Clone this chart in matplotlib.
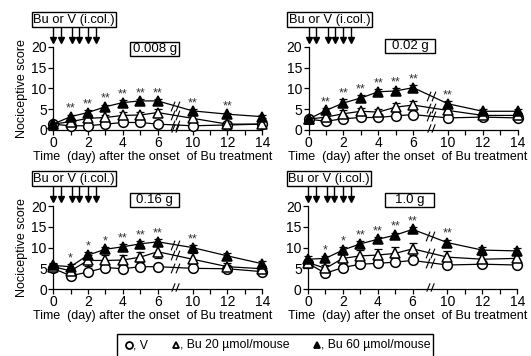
import numpy as np
import matplotlib.pyplot as plt
from matplotlib.path import Path
from matplotlib.patches import Rectangle
from matplotlib.lines import Line2D

plt.rcParams['font.family'] = ['Liberation Sans', 'DejaVu Sans']

# Datos
days = [0, 1, 2, 3, 4, 5, 6, 10, 12, 14]
doses = ['0.008 g', '0.02 g', '0.16 g', '1.0 g']

v_mean = [
    [1.4, 1.0, 1.0, 1.4, 1.8, 1.8, 1.4, 1.0, 1.2, 1.4],
    [2.6, 2.1, 2.7, 3.0, 3.0, 3.4, 3.7, 2.9, 3.1, 2.9],
    [5.0, 3.2, 4.1, 5.2, 4.9, 5.4, 5.4, 5.0, 4.9, 4.2],
    [6.2, 3.8, 5.2, 6.0, 6.2, 6.5, 6.9, 5.8, 6.0, 5.8],
]
bu20_mean = [
    [1.4, 2.0, 2.8, 3.0, 3.5, 3.6, 4.2, 2.8, 1.4, 1.4],
    [2.6, 3.1, 3.9, 4.5, 4.3, 5.5, 6.0, 4.7, 3.5, 3.5],
    [5.4, 4.4, 6.9, 6.9, 7.0, 7.7, 9.0, 7.2, 5.4, 4.9],
    [6.4, 5.0, 7.4, 8.0, 8.2, 8.6, 9.7, 7.7, 7.2, 7.4],
]
bu60_mean = [
    [1.4, 3.2, 4.2, 5.6, 6.6, 7.0, 7.0, 4.6, 3.8, 3.2],
    [2.6, 4.7, 6.5, 7.7, 9.2, 9.4, 10.2, 6.3, 4.5, 4.5],
    [5.7, 5.4, 8.2, 9.6, 10.2, 10.9, 11.4, 10.0, 8.0, 6.1],
    [7.2, 7.4, 9.4, 10.9, 12.0, 13.0, 14.4, 11.2, 9.4, 9.2],
]
v_err = [
    [0.3, 0.3, 0.3, 0.4, 0.4, 0.4, 0.3, 0.3, 0.3, 0.3],
    [0.3, 0.4, 0.4, 0.4, 0.4, 0.4, 0.4, 0.4, 0.3, 0.3],
    [0.4, 0.5, 0.5, 0.6, 0.5, 0.6, 0.6, 0.5, 0.4, 0.4],
    [0.5, 0.6, 0.6, 0.6, 0.6, 0.6, 0.7, 0.6, 0.5, 0.5],
]
bu20_err = [
    [0.3, 0.6, 0.7, 0.7, 0.8, 0.8, 0.8, 0.8, 0.5, 0.4],
    [0.4, 0.7, 0.8, 0.8, 0.8, 0.9, 1.0, 1.0, 0.6, 0.5],
    [0.6, 0.8, 1.3, 1.3, 1.1, 1.2, 1.4, 1.5, 1.0, 0.6],
    [0.7, 0.8, 1.3, 1.4, 1.5, 1.6, 1.5, 1.6, 1.0, 0.8],
]
bu60_err = [
    [0.3, 0.5, 0.6, 0.5, 0.5, 0.5, 0.5, 0.5, 0.4, 0.4],
    [0.4, 0.6, 1.0, 0.7, 0.6, 0.6, 0.6, 0.7, 0.5, 0.5],
    [0.6, 0.6, 0.7, 0.6, 0.6, 0.6, 0.7, 0.6, 0.6, 0.6],
    [0.7, 0.6, 0.7, 0.7, 0.6, 0.6, 0.6, 0.7, 0.7, 0.6],
]
stars = [
    ['', '**', '**', '**', '**', '**', '**', '**', '**', ''],
    ['', '**', '**', '**', '**', '**', '**', '**', '', ''],
    ['', '*', '*', '*', '**', '**', '**', '**', '', ''],
    ['', '*', '*', '**', '**', '**', '**', '**', '', ''],
]
arrow_days = [0, 0.45, 1.1, 1.5, 2.0, 2.45]
tick_days = [0, 2, 4, 6, 10, 12, 14]
minor_days = [1, 3, 5, 11, 13]


# eje x comprimido: 6 -> 10 ocupa dos unidades
def pos(d):
    d = np.asarray(d, dtype=float)
    return np.where(d > 6, d - 2, d)


# marcador de corte "//"
brk = Path([(-0.9, -1.0), (-0.1, 1.0), (0.1, -1.0), (0.9, 1.0)],
           [Path.MOVETO, Path.LINETO, Path.MOVETO, Path.LINETO])

fig = plt.figure(figsize=(5.31, 3.56), dpi=100)
lefts = [0.1, 0.581, 0.1, 0.58]
bottoms = [0.635, 0.635, 0.188, 0.188]
dose_y = [0.89, 0.93, 0.99, 0.99]

for i in range(4):
    ax = fig.add_axes([lefts[i], bottoms[i], 0.394, 0.233])
    x = pos(days)
    groups = [
        (v_mean[i], v_err[i], 'o', 'white'),
        (bu20_mean[i], bu20_err[i], '^', 'white'),
        (bu60_mean[i], bu60_err[i], '^', 'black'),
    ]
    for mean, err, mk, fc in groups:
        ax.errorbar(x, mean, yerr=err, fmt='none', ecolor='black',
                    elinewidth=0.9, capsize=3, capthick=0.9, clip_on=False, zorder=2)
        ax.plot(x, mean, color='black', lw=0.9, marker=mk, markersize=7 if mk == 'o' else 6.5,
                markerfacecolor=fc, markeredgecolor='black', markeredgewidth=1.1,
                clip_on=False, zorder=3)
        # corte en cada línea
        ymid = (mean[6] + mean[7]) / 2
        ax.plot([7], [ymid], marker=brk, markersize=7, markerfacecolor='none',
                markeredgecolor='black', markeredgewidth=0.8, linestyle='none',
                clip_on=False, zorder=4)
    for k, s in enumerate(stars[i]):
        if s:
            ax.text(x[k], bu60_mean[i][k] + bu60_err[i][k] + 1.4, s, ha='center',
                    va='center', fontsize=9, color='#333333')

    ax.set_xlim(0, 12)
    ax.set_ylim(0, 20)
    ax.set_xticks(pos(tick_days))
    ax.set_xticklabels([str(d) for d in tick_days])
    ax.set_xticks(pos(minor_days), minor=True)
    ax.set_yticks([0, 5, 10, 15, 20])
    ax.tick_params(axis='both', which='both', direction='out', length=3.5, width=0.9,
                   labelsize=10, pad=1)
    ax.spines['top'].set_visible(False)
    ax.spines['right'].set_visible(False)
    ax.spines['left'].set_linewidth(0.9)
    ax.spines['bottom'].set_linewidth(0.9)
    ax.plot([7], [0.5], marker=brk, markersize=6, markerfacecolor='none',
            markeredgecolor='black', markeredgewidth=0.8, linestyle='none',
            clip_on=False, zorder=4)

    ax.set_xlabel('Time  (day) after the onset  of Bu treatment', fontsize=9)
    ax.xaxis.set_label_coords(0.475, -0.255)
    if i % 2 == 0:
        ax.set_ylabel('Nociceptive score', fontsize=9, labelpad=2)

    # flechas de administración
    for a in pos(arrow_days):
        ax.plot([a, a], [24.6, 21.8], color='black', lw=1.0, clip_on=False)
        ax.plot([a], [21.6], marker='v', markersize=4.5, color='black',
                clip_on=False)
    ax.text(-0.095, 1.33, 'Bu or V (i.col.)', transform=ax.transAxes, ha='left',
            va='center', fontsize=9.3,
            bbox=dict(boxstyle='square,pad=0.12', fc='white', ec='black', lw=1.0))

    # caja de la dosis
    ax.add_patch(Rectangle((0.367, dose_y[i]), 0.237, 0.165, transform=ax.transAxes,
                           fill=False, ec='black', lw=1.0, clip_on=False))
    ax.text(0.4855, dose_y[i] + 0.0825, doses[i], transform=ax.transAxes,
            ha='center', va='center', fontsize=9.5)

# leyenda
fig.patches.append(Rectangle((117 / 531, -0.05), 316 / 531, 0.05 + 22 / 356,
                             transform=fig.transFigure, fill=False, ec='black', lw=1.0))
ly = 1 - 345 / 356
items = [('o', 'white', 'V', 129), ('^', 'white', 'Bu 20 µmol/mouse', 176),
         ('^', 'black', 'Bu 60 µmol/mouse', 317)]
for mk, fc, lab, px in items:
    fig.add_artist(Line2D([px / 531], [ly], marker=mk, markersize=5, markerfacecolor=fc,
                          markeredgecolor='black', markeredgewidth=1.3,
                          transform=fig.transFigure))
    fig.text((px + 4) / 531, ly, ', ' + lab, ha='left', va='center', fontsize=8.8)

fig.savefig('out.png', dpi=100)
